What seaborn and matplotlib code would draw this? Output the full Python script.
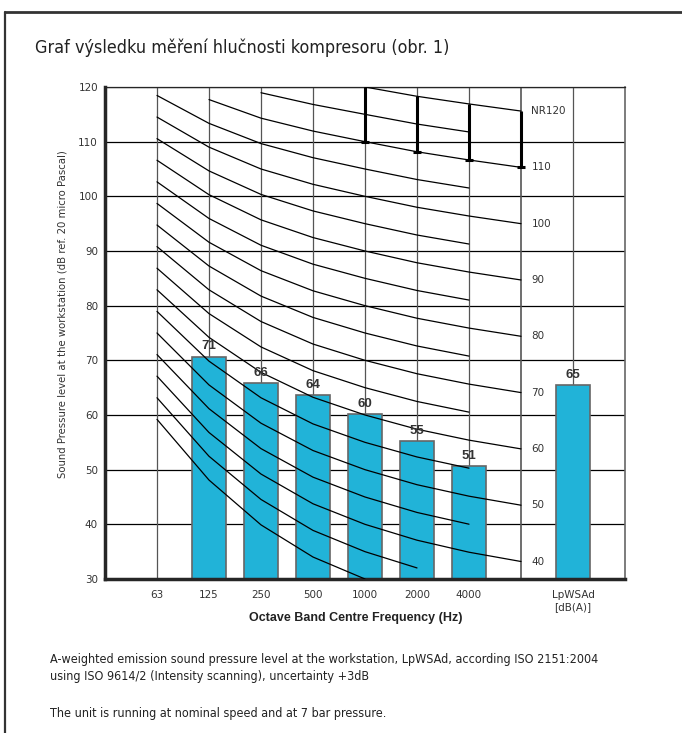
import matplotlib
matplotlib.use("Agg")
import matplotlib.pyplot as plt
from matplotlib import font_manager
from matplotlib.lines import Line2D
import numpy as np
import pandas as pd
import seaborn as sns

# dados
bandas = ['63', '125', '250', '500', '1000', '2000', '4000', '8000', 'LpWSAd']
rotulos_x = ['63', '125', '250', '500', '1000', '2000', '4000', '', 'LpWSAd\n[dB(A)]']
nivel = [np.nan, 70.7, 65.8, 63.6, 60.2, 55.3, 50.7, np.nan, 65.5]
texto_barra = ['', '71', '66', '64', '60', '55', '51', '', '65']

# curvas NR (tabela por banda de oitava 63..8000 Hz: L = a + b*NR)
nr_a = [35.5, 22.0, 12.0, 4.8, 0.0, -3.5, -6.1, -8.0]
nr_b = [0.790, 0.870, 0.930, 0.974, 1.000, 1.015, 1.025, 1.030]
nr_niveis = list(range(30, 125, 5))

titulo = "Graf výsledku měření hlučnosti kompresoru (obr. 1)"
nota1 = ("A-weighted emission sound pressure level at the workstation, LpWSAd, according ISO 2151:2004\n"
         "using ISO 9614/2 (Intensity scanning), uncertainty +3dB")
nota2 = "The unit is running at nominal speed and at 7 bar pressure."

sns.set_style("white")

# fonte estreita se existir
disponiveis = {f.name for f in font_manager.fontManager.ttflist}
estreita = {f.name for f in font_manager.fontManager.ttflist if f.stretch in ('condensed', 'semi-condensed') or 'Narrow' in f.name or 'Condensed' in f.name}
if 'Liberation Sans Narrow' in disponiveis:
    narrow = dict(family=['Liberation Sans Narrow', 'DejaVu Sans'])
    esc = 1.0
elif any('DejaVu Sans' in n for n in estreita) or any(f.name == 'DejaVu Sans' and f.stretch == 'condensed' for f in font_manager.fontManager.ttflist):
    narrow = dict(family=['DejaVu Sans'], stretch='condensed')
    esc = 0.92
else:
    narrow = dict(family=['Liberation Sans', 'DejaVu Sans'])
    esc = 0.9
plt.rcParams['font.family'] = narrow['family']
if 'stretch' in narrow:
    plt.rcParams['font.stretch'] = 'condensed'

W, H = 682, 733
fig = plt.figure(figsize=(W / 100, H / 100), dpi=100)
ax = fig.add_axes([105 / W, 1 - 579 / H, 520 / W, 492 / H])

pos = np.arange(1, len(bandas) + 1)
df = pd.DataFrame({'pos': pos, 'nivel': nivel}).dropna()

sns.barplot(data=df, x='pos', y='nivel', native_scale=True, width=0.65,
            color='#21b3d8', saturation=1, edgecolor='#666666', linewidth=1.2,
            ax=ax, zorder=2)

for p, v, t in zip(pos, nivel, texto_barra):
    if t:
        ax.annotate(t, (p, v), xytext=(0, 3), textcoords='offset points',
                    ha='center', va='bottom', fontsize=9.5, fontweight='bold',
                    color='#333333', family=['Liberation Sans', 'DejaVu Sans'],
                    stretch='normal', zorder=5)

# curvas NR
x_nr = pos[:8]
for nr in nr_niveis:
    vals = np.array(nr_a) + np.array(nr_b) * nr
    n = 8 if nr % 10 == 0 else 7
    xs, ys = x_nr[:n], vals[:n]
    ok = (ys >= 29.99) & (ys <= 120.01)
    ax.plot(xs[ok], ys[ok], color='black', lw=0.9, zorder=3)
    if nr % 10 == 0 and nr >= 40:
        lab = 'NR120' if nr == 120 else str(nr)
        ax.text(8.2, vals[7], lab, ha='left', va='center', fontsize=9 * esc,
                color='#333333', zorder=5)

# barras verticais grossas NR110 -> NR120
for i in [4, 5, 6, 7]:
    y0 = nr_a[i] + nr_b[i] * 110
    y1 = min(nr_a[i] + nr_b[i] * 120, 120)
    ax.plot([x_nr[i], x_nr[i]], [y0, y1], color='black', lw=2.2, zorder=4,
            solid_capstyle='butt')
    ax.plot([x_nr[i] - 0.08, x_nr[i] + 0.08], [y0, y0], color='black', lw=2.2,
            zorder=4, solid_capstyle='butt')

ax.set_xlim(0, 10)
ax.set_ylim(30, 120)
ax.set_yticks(range(30, 121, 10))
ax.set_xticks(list(pos) + [10])
ax.set_xticklabels(rotulos_x + [''])
ax.tick_params(axis='both', direction='inout', length=6, width=2, color='black',
               labelsize=9 * esc, labelcolor='#333333', pad=2)
ax.tick_params(axis='x', pad=5)

for v in range(40, 121, 10):
    ax.axhline(v, color='black', lw=0.9, zorder=1)
for p in pos:
    ax.axvline(p, color='#555555', lw=0.9 if p != 8 else 1.2, zorder=1)

ax.spines['left'].set_linewidth(2.5)
ax.spines['bottom'].set_linewidth(2.5)
ax.spines['top'].set_linewidth(0.9)
ax.spines['right'].set_color('#666666')
ax.spines['right'].set_linewidth(1.2)
ax.set_xlabel('')
ax.set_ylabel('')

fig.text(63 / W, 1 - 314 / H, 'Sound Pressure level at the workstation (dB ref. 20 micro Pascal)',
         rotation=90, ha='center', va='center', fontsize=8.8 * esc, color='#333333')
fig.text(356 / W, 1 - 618 / H, 'Octave Band Centre Frequency (Hz)', ha='center', va='center',
         fontsize=9, fontweight='bold', color='#222222',
         family=['Liberation Sans', 'DejaVu Sans'], stretch='normal')

fig.text(35 / W, 1 - 48 / H, titulo, ha='left', va='center', fontsize=14 * esc, color='#222222')
fig.text(50 / W, 1 - 668 / H, nota1, ha='left', va='center', fontsize=9.8 * esc,
         color='#222222', linespacing=1.45)
fig.text(50 / W, 1 - 714 / H, nota2, ha='left', va='center', fontsize=9.8 * esc, color='#222222')

# moldura
fig.add_artist(Line2D([5 / W, 1], [1 - 12 / H, 1 - 12 / H], color='#333333', lw=2,
                      transform=fig.transFigure))
fig.add_artist(Line2D([5 / W, 5 / W], [0, 1 - 12 / H], color='#333333', lw=1.6,
                      transform=fig.transFigure))

fig.savefig('out.png', dpi=100)
